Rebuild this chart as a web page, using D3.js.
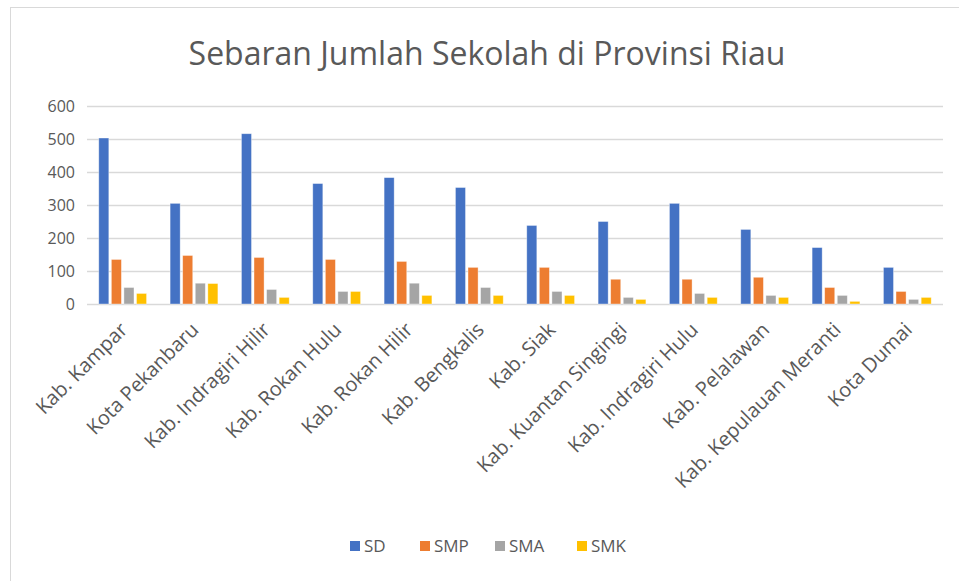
<!DOCTYPE html>
<html>
<head>
<meta charset="utf-8">
<script src="https://cdn.jsdelivr.net/npm/d3@7"></script>
<style>
  body { margin: 0; background: #fff; }
  text { fill: #595959; }
</style>
</head>
<body>
<div id="chart"></div>
<script>
const categories = [
  "Kab. Kampar", "Kota Pekanbaru", "Kab. Indragiri Hilir", "Kab. Rokan Hulu",
  "Kab. Rokan Hilir", "Kab. Bengkalis", "Kab. Siak", "Kab. Kuantan Singingi",
  "Kab. Indragiri Hulu", "Kab. Pelalawan", "Kab. Kepulauan Meranti", "Kota Dumai"
];
const sd  = [503, 305, 516, 365, 383, 353, 238, 250, 305, 226, 171, 111];
const smp = [135, 147, 141, 135, 129, 111, 111, 75, 75, 81, 50, 38];
const sma = [50, 63, 44, 38, 63, 50, 38, 20, 32, 26, 26, 14];
const smk = [32, 62, 20, 38, 26, 26, 26, 14, 20, 20, 8, 20];
const seriesNames = ["SD", "SMP", "SMA", "SMK"];
const seriesColors = ["#4472c4", "#ed7d31", "#a5a5a5", "#ffc000"];
const yTicks = [0, 100, 200, 300, 400, 500, 600];

const width = 959, height = 581;
const series = [sd, smp, sma, smk];
const margin = { left: 87, right: 16, top: 106, bottom: 277 };

const svg = d3.select("#chart").append("svg")
  .attr("width", width)
  .attr("height", height)
  .style("font-family", "'Open Sans', 'Noto Sans', sans-serif");

// chart area border
svg.append("rect")
  .attr("x", 10.5).attr("y", 7.5)
  .attr("width", 980).attr("height", 600)
  .attr("fill", "none")
  .attr("stroke", "#d9d9d9");

svg.append("text")
  .attr("x", 487).attr("y", 65)
  .attr("text-anchor", "middle")
  .style("font-size", "32px")
  .text("Sebaran Jumlah Sekolah di Provinsi Riau");

const x0 = d3.scaleBand()
  .domain(categories)
  .range([margin.left, width - margin.right])
  .paddingInner(0.33)
  .paddingOuter(0.165);

const x1 = d3.scaleBand()
  .domain(seriesNames)
  .range([0, x0.bandwidth()])
  .paddingInner(0.2);

const y = d3.scaleLinear()
  .domain([0, 600])
  .range([height - margin.bottom, margin.top]);

// gridlines
svg.append("g")
  .selectAll("line")
  .data(yTicks)
  .join("line")
  .attr("x1", margin.left).attr("x2", width - margin.right)
  .attr("y1", d => Math.round(y(d)) + 0.5)
  .attr("y2", d => Math.round(y(d)) + 0.5)
  .attr("stroke", "#d9d9d9")
  .attr("stroke-width", 1.5);

// y labels
svg.append("g")
  .selectAll("text")
  .data(yTicks)
  .join("text")
  .attr("x", 75)
  .attr("y", d => y(d))
  .attr("dy", "0.35em")
  .attr("text-anchor", "end")
  .style("font-size", "16px")
  .text(d => d);

// bars
const groups = svg.append("g")
  .selectAll("g")
  .data(categories)
  .join("g")
  .attr("transform", d => `translate(${x0(d)},0)`);

groups.selectAll("rect")
  .data((d, i) => seriesNames.map((s, j) => ({ key: s, value: series[j][i], color: seriesColors[j] })))
  .join("rect")
  .attr("x", d => x1(d.key))
  .attr("y", d => y(d.value))
  .attr("width", x1.bandwidth())
  .attr("height", d => y(0) - y(d.value))
  .attr("fill", d => d.color)
  .attr("stroke", "#fff")
  .attr("stroke-opacity", 0.5)
  .attr("stroke-width", 0.75);

// x labels, rotated
svg.append("g")
  .selectAll("text")
  .data(categories)
  .join("text")
  .attr("transform", d => `translate(${x0(d) + x0.bandwidth() / 2 + 6},${y(0) + 27}) rotate(-45)`)
  .attr("text-anchor", "end")
  .style("font-size", "20px")
  .text(d => d);

// legend
const legendX = [350, 420, 495, 577];
const legend = svg.append("g")
  .selectAll("g")
  .data(seriesNames)
  .join("g")
  .attr("transform", (d, i) => `translate(${legendX[i]},541)`);

legend.append("rect")
  .attr("width", 10).attr("height", 10)
  .attr("fill", (d, i) => seriesColors[i]);

legend.append("text")
  .attr("x", 14).attr("y", 5)
  .attr("dy", "0.35em")
  .style("font-size", "17px")
  .text(d => d);
</script>
</body>
</html>
